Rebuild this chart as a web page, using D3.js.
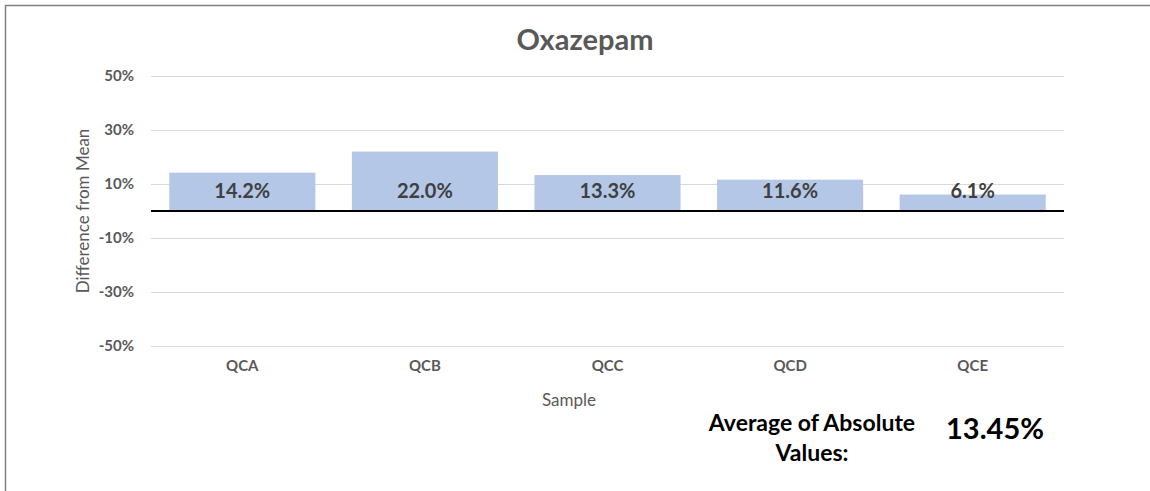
<!DOCTYPE html>
<html>
<head>
<meta charset="utf-8">
<script src="https://cdn.jsdelivr.net/npm/d3@7"></script>
<style>
  body { margin: 0; background: #fff; }
  text { font-family: Lato, "Open Sans", sans-serif; }
</style>
</head>
<body>
<svg width="1150" height="491"></svg>
<script>
// chart data
var samples = ["QCA", "QCB", "QCC", "QCD", "QCE"];
var diffs = [0.142, 0.220, 0.133, 0.116, 0.061];
var tickVals = [0.5, 0.3, 0.1, -0.1, -0.3, -0.5];
var avgLabel = ["Average of Absolute", "Values:"];
var avgValue = "13.45%";

var svg = d3.select("svg");

// outer frame (only top/left visible in the picture)
svg.append("rect")
  .attr("x", 5.5).attr("y", 5.5)
  .attr("width", 1200).attr("height", 600)
  .attr("fill", "none")
  .attr("stroke", "#808080")
  .attr("stroke-width", 1.5);

var x = d3.scaleBand().domain(samples).range([151, 1064]).paddingInner(0.2).paddingOuter(0.1);
var y = d3.scaleLinear().domain([-0.5, 0.5]).range([346, 76]);

var pct0 = function(d) { return d3.format(".0%")(d).replace("\u2212", "-"); };

// title
svg.append("text")
  .attr("x", 585).attr("y", 50)
  .attr("text-anchor", "middle")
  .attr("font-size", "29px").attr("font-weight", "bold")
  .attr("fill", "#595959")
  .text("Oxazepam");

// y axis with gridlines
var yaxis = d3.axisLeft(y).tickValues(tickVals).tickSize(-(1064 - 151)).tickFormat(pct0);
var gy = svg.append("g").attr("transform", "translate(151,0)").call(yaxis);
gy.select(".domain").remove();
gy.selectAll("line").attr("stroke", "#d9d9d9").attr("stroke-width", 1);
gy.selectAll("text")
  .attr("x", -17)
  .style("font-size", "15px").style("font-weight", "bold")
  .style("font-family", "Lato, sans-serif")
  .attr("fill", "#595959");

// bars
svg.selectAll("rect.bar")
  .data(diffs)
  .enter().append("rect")
  .attr("class", "bar")
  .attr("x", function(d, i) { return x(samples[i]); })
  .attr("y", function(d) { return y(Math.max(0, d)); })
  .attr("width", x.bandwidth())
  .attr("height", function(d) { return Math.abs(y(d) - y(0)); })
  .attr("fill", "#b4c7e7");

// value labels
svg.selectAll("text.val")
  .data(diffs)
  .enter().append("text")
  .attr("class", "val")
  .attr("x", function(d, i) { return x(samples[i]) + x.bandwidth() / 2; })
  .attr("y", y(0) - 13)
  .attr("text-anchor", "middle")
  .attr("font-size", "20px").attr("font-weight", "bold")
  .attr("fill", "#404040")
  .text(function(d) { return d3.format(".1%")(d); });

// zero line
svg.append("line")
  .attr("x1", 151).attr("x2", 1064)
  .attr("y1", y(0)).attr("y2", y(0))
  .attr("stroke", "#000").attr("stroke-width", 2);

// x axis labels
var xaxis = d3.axisBottom(x).tickSize(0);
var gx = svg.append("g").attr("transform", "translate(0,357)").call(xaxis);
gx.select(".domain").remove();
gx.selectAll("text")
  .style("font-size", "15px").style("font-weight", "bold")
  .style("font-family", "Lato, sans-serif")
  .attr("fill", "#595959");

// axis titles
svg.append("text")
  .attr("x", 569).attr("y", 406)
  .attr("text-anchor", "middle")
  .attr("font-size", "17px")
  .attr("fill", "#595959")
  .text("Sample");

svg.append("text")
  .attr("transform", "translate(89,211) rotate(-90)")
  .attr("text-anchor", "middle")
  .attr("font-size", "17px")
  .attr("fill", "#595959")
  .text("Difference from Mean");

// average annotation
svg.selectAll("text.avg")
  .data(avgLabel)
  .enter().append("text")
  .attr("class", "avg")
  .attr("x", 812)
  .attr("y", function(d, i) { return 431 + i * 30; })
  .attr("text-anchor", "middle")
  .attr("font-size", "23px").attr("font-weight", "bold")
  .attr("fill", "#000")
  .text(function(d) { return d; });

svg.append("text")
  .attr("x", 995).attr("y", 439)
  .attr("text-anchor", "middle")
  .attr("font-size", "29px").attr("font-weight", "bold")
  .attr("fill", "#000")
  .text(avgValue);
</script>
</body>
</html>
